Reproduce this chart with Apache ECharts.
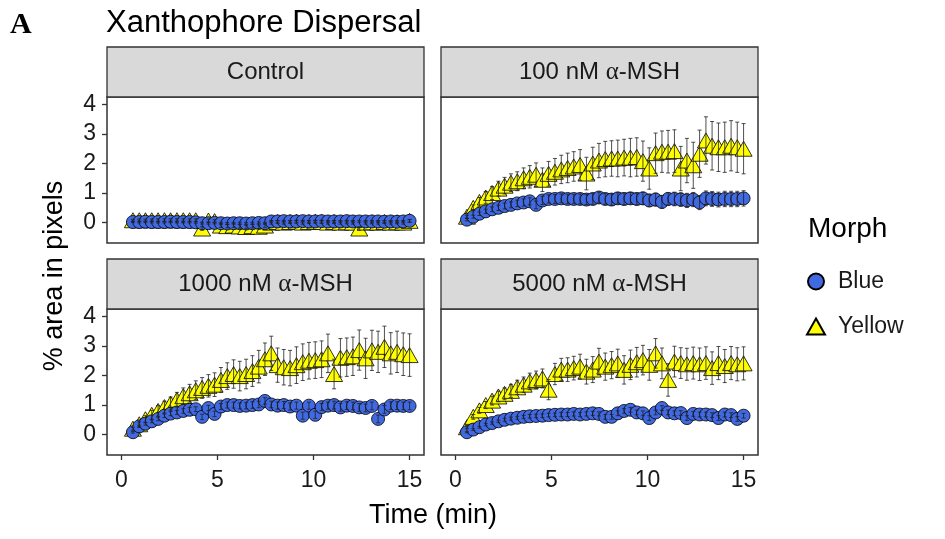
<!DOCTYPE html>
<html>
<head>
<meta charset="utf-8">
<script src="https://cdn.jsdelivr.net/npm/echarts@6/dist/echarts.min.js"></script>
<style>
  html, body { margin: 0; padding: 0; background: #fff; }
  #chart { width: 945px; height: 539px; }
</style>
</head>
<body>
<div id="chart"></div>
<script>
// time points (min)
const times = [0.6,0.93,1.25,1.58,1.91,2.24,2.56,2.89,3.22,3.55,3.87,4.2,4.53,4.85,5.18,5.51,5.84,6.16,6.49,6.82,
  7.15,7.47,7.8,8.13,8.45,8.78,9.11,9.44,9.76,10.09,10.42,10.75,11.07,11.4,11.73,12.05,12.38,12.71,13.04,13.36,
  13.69,14.02,14.35,14.67,15.0];

const panelNames = ['Control', '100 nM α-MSH', '1000 nM α-MSH', '5000 nM α-MSH'];
const xTicks = [0, 5, 10, 15];
const yTicks = [0, 1, 2, 3, 4];

// Control
const ctlBlue = [0.02,0.02,0.03,0.02,0.02,0.02,0.03,0.02,0.02,0.02,0.01,-0.02,-0.02,-0.01,-0.02,-0.03,-0.02,-0.02,-0.03,-0.02,
  -0.01,-0.02,0.04,0.04,0.05,0.04,0.04,0.05,0.04,0.04,0.05,0.04,0.04,0.04,0.05,0.04,0.04,0.04,0.04,0.04,
  0.03,0.04,0.03,0.04,0.06];
const ctlBlueErr = [0.02,0.03,0.03,0.03,0.03,0.03,0.03,0.03,0.03,0.03,0.03,0.03,0.03,0.03,0.03,0.03,0.03,0.03,0.03,0.03,
  0.03,0.03,0.03,0.03,0.03,0.03,0.03,0.03,0.03,0.03,0.03,0.03,0.03,0.03,0.03,0.03,0.03,0.03,0.03,0.03,
  0.03,0.03,0.03,0.03,0.04];
const ctlYellow = [0.08,0.08,0.08,0.08,0.08,0.08,0.08,0.08,0.08,0.08,0.08,-0.2,0.07,0.05,-0.1,-0.12,-0.1,-0.13,-0.15,-0.12,
  -0.14,-0.1,0.0,0.02,0.0,0.02,0.03,0.0,0.02,0.03,0.02,0.0,0.02,0.0,0.01,0.0,-0.2,0.0,0.01,0.0,
  0.02,0.0,0.01,0.0,0.06];
const ctlYellowErr = [0.03,0.04,0.04,0.04,0.05,0.05,0.05,0.05,0.05,0.05,0.05,0.06,0.05,0.05,0.06,0.06,0.06,0.06,0.06,0.06,
  0.06,0.06,0.05,0.05,0.05,0.05,0.05,0.05,0.05,0.05,0.05,0.05,0.05,0.05,0.05,0.05,0.06,0.05,0.05,0.05,
  0.05,0.05,0.05,0.05,0.05];

// 100 nM
const blue100 = [0.1,0.2,0.3,0.38,0.45,0.5,0.56,0.6,0.65,0.68,0.72,0.6,0.75,0.8,0.8,0.82,0.8,0.8,0.8,0.78,
  0.8,0.85,0.8,0.78,0.82,0.8,0.82,0.8,0.82,0.75,0.78,0.7,0.8,0.8,0.78,0.75,0.78,0.68,0.82,0.8,
  0.78,0.8,0.8,0.8,0.82];
const blue100Err = [0.04,0.05,0.06,0.07,0.08,0.09,0.1,0.1,0.11,0.12,0.12,0.13,0.14,0.14,0.15,0.15,0.16,0.16,0.17,0.17,
  0.18,0.18,0.18,0.19,0.19,0.2,0.2,0.2,0.21,0.21,0.22,0.22,0.22,0.23,0.23,0.24,0.24,0.24,0.25,0.25,
  0.25,0.26,0.26,0.26,0.26];
const yellow100 = [0.2,0.5,0.7,0.85,1.0,1.15,1.25,1.35,1.4,1.5,1.55,1.62,1.45,1.65,1.72,1.8,1.85,1.9,1.95,1.66,
  2.0,2.1,2.15,2.17,2.17,2.2,2.2,2.22,2.08,1.83,2.35,2.4,2.4,2.42,1.83,2.1,1.94,2.33,2.78,2.6,
  2.55,2.55,2.6,2.55,2.5];
const yellow100Err = [0.05,0.1,0.15,0.2,0.22,0.25,0.28,0.3,0.32,0.35,0.38,0.4,0.4,0.42,0.45,0.48,0.5,0.5,0.52,0.55,
  0.55,0.58,0.6,0.6,0.62,0.62,0.65,0.65,0.68,0.7,0.68,0.7,0.72,0.72,0.75,0.75,0.78,0.8,0.8,0.82,
  0.82,0.85,0.85,0.85,0.85];

// 1000 nM
const blue1000 = [0.08,0.28,0.37,0.45,0.53,0.64,0.71,0.75,0.8,0.84,0.86,0.6,0.9,0.7,0.95,1.0,1.0,0.97,0.98,1.0,
  1.02,1.14,1.02,0.98,1.0,0.95,0.98,0.64,0.98,0.67,0.93,0.98,1.0,0.92,0.98,0.97,0.92,0.9,0.97,0.53,
  0.85,0.98,0.98,0.97,0.97];
const blue1000Err = [0.03,0.04,0.05,0.05,0.06,0.06,0.07,0.07,0.08,0.08,0.08,0.09,0.09,0.09,0.1,0.1,0.1,0.1,0.11,0.11,
  0.11,0.11,0.11,0.12,0.12,0.12,0.12,0.12,0.12,0.12,0.12,0.12,0.13,0.13,0.13,0.13,0.13,0.13,0.13,0.13,
  0.13,0.13,0.13,0.13,0.13];
const yellow1000 = [0.2,0.35,0.52,0.67,0.8,0.93,1.05,1.18,1.3,1.4,1.5,1.58,1.65,1.69,1.85,1.98,2.05,1.98,2.05,2.15,
  2.3,2.55,2.75,2.35,2.28,2.25,2.35,2.45,2.5,2.52,2.55,2.75,2.05,2.6,2.62,2.65,2.86,2.58,2.85,2.8,
  2.97,2.75,2.8,2.72,2.69];
const yellow1000Err = [0.05,0.08,0.12,0.15,0.18,0.2,0.22,0.25,0.28,0.3,0.32,0.35,0.38,0.4,0.42,0.45,0.48,0.5,0.5,0.52,
  0.55,0.55,0.58,0.58,0.6,0.6,0.62,0.62,0.62,0.62,0.62,0.65,0.5,0.65,0.65,0.65,0.68,0.68,0.68,0.7,
  0.7,0.7,0.7,0.72,0.72];

// 5000 nM
const blue5000 = [0.08,0.17,0.25,0.34,0.39,0.45,0.5,0.54,0.57,0.6,0.62,0.63,0.64,0.66,0.67,0.68,0.68,0.7,0.68,0.7,
  0.72,0.7,0.6,0.6,0.72,0.8,0.84,0.75,0.72,0.56,0.75,0.9,0.75,0.72,0.73,0.56,0.7,0.68,0.68,0.66,
  0.56,0.68,0.66,0.53,0.64];
const blue5000Err = [0.02,0.03,0.03,0.04,0.04,0.04,0.05,0.05,0.05,0.05,0.06,0.06,0.06,0.06,0.06,0.07,0.07,0.07,0.07,0.07,
  0.07,0.07,0.08,0.08,0.08,0.08,0.08,0.08,0.08,0.08,0.08,0.08,0.08,0.08,0.08,0.08,0.08,0.08,0.08,0.08,
  0.08,0.08,0.08,0.08,0.08];
const yellow5000 = [0.25,0.6,0.82,1.0,1.15,1.29,1.38,1.48,1.6,1.69,1.8,1.85,1.9,1.52,2.05,2.2,2.2,2.25,2.3,2.13,
  2.2,2.47,2.3,2.35,2.41,2.19,2.36,2.45,2.52,2.36,2.75,2.41,1.85,2.47,2.42,2.38,2.42,2.38,2.42,2.25,
  2.42,2.32,2.42,2.38,2.41];
const yellow5000Err = [0.05,0.08,0.1,0.12,0.15,0.18,0.2,0.22,0.24,0.26,0.28,0.3,0.32,0.34,0.36,0.38,0.4,0.4,0.42,0.42,
  0.44,0.45,0.46,0.46,0.48,0.48,0.5,0.5,0.5,0.52,0.5,0.52,0.55,0.52,0.52,0.54,0.54,0.55,0.55,0.55,
  0.56,0.56,0.56,0.56,0.56];

const panels = [
  {blue: ctlBlue, blueErr: ctlBlueErr, yellow: ctlYellow, yellowErr: ctlYellowErr},
  {blue: blue100, blueErr: blue100Err, yellow: yellow100, yellowErr: yellow100Err},
  {blue: blue1000, blueErr: blue1000Err, yellow: yellow1000, yellowErr: yellow1000Err},
  {blue: blue5000, blueErr: blue5000Err, yellow: yellow5000, yellowErr: yellow5000Err}
];

const FONT = '"Liberation Sans", Arial, sans-serif';
const INK = '#1a1a1a';
const W = 317, H = 146, STRIP = 50;
const gridPos = [[107, 97], [441, 97], [107, 309], [441, 309]];

function errorBars(vals, errs, i) {
  return {
    type: 'custom',
    xAxisIndex: i, yAxisIndex: i,
    z: 4,
    silent: true,
    renderItem: function (params, api) {
      const x = api.value(0), y = api.value(1), e = api.value(2);
      const hi = api.coord([x, y + e]);
      const lo = api.coord([x, y - e]);
      const c = 2;
      const st = {stroke: '#222', lineWidth: 0.8};
      return {type: 'group', children: [
        {type: 'line', shape: {x1: hi[0], y1: hi[1], x2: lo[0], y2: lo[1]}, style: st},
        {type: 'line', shape: {x1: hi[0] - c, y1: hi[1], x2: hi[0] + c, y2: hi[1]}, style: st},
        {type: 'line', shape: {x1: lo[0] - c, y1: lo[1], x2: lo[0] + c, y2: lo[1]}, style: st}
      ]};
    },
    encode: {x: 0, y: 1},
    data: times.map((t, k) => [t, vals[k], errs[k]])
  };
}

const series = [];
panels.forEach((p, i) => {
  series.push({
    type: 'scatter', name: 'Yellow', xAxisIndex: i, yAxisIndex: i, z: 2,
    symbol: 'triangle', symbolSize: [17, 15],
    itemStyle: {color: '#ffff00', opacity: 1, borderColor: '#000', borderWidth: 0.8},
    emphasis: {disabled: true},
    data: times.map((t, k) => [t, p.yellow[k]])
  });
  series.push({
    type: 'scatter', name: 'Blue', xAxisIndex: i, yAxisIndex: i, z: 3,
    symbol: 'circle', symbolSize: 13,
    itemStyle: {color: '#4169e1', opacity: 1, borderColor: '#000', borderWidth: 0.8},
    emphasis: {disabled: true},
    data: times.map((t, k) => [t, p.blue[k]])
  });
  series.push(errorBars(p.yellow, p.yellowErr, i));
  series.push(errorBars(p.blue, p.blueErr, i));
});

const graphic = [
  {type: 'text', x: 10, y: 25, style: {text: 'A', font: 'bold 30px "Liberation Serif", serif', fill: '#000', verticalAlign: 'middle'}},
  {type: 'text', x: 106, y: 23, style: {text: 'Xanthophore Dispersal', font: '31px ' + FONT, fill: '#000', verticalAlign: 'middle'}},
  {type: 'text', x: 808, y: 229, style: {text: 'Morph', font: '28px ' + FONT, fill: '#000', verticalAlign: 'middle'}},
  {type: 'text', x: 433, y: 516, style: {text: 'Time (min)', font: '27px ' + FONT, fill: '#000', align: 'center', verticalAlign: 'middle'}},
  {type: 'text', x: 55, y: 276, rotation: Math.PI / 2,
    style: {text: '% area in pixels', font: '27px ' + FONT, fill: '#000', align: 'center', verticalAlign: 'middle'}}
];
gridPos.forEach(([l, t], i) => {
  graphic.push({type: 'rect', shape: {x: l, y: t - STRIP, width: W, height: STRIP},
    style: {fill: '#d9d9d9', stroke: '#333', lineWidth: 1.3}});
  const name = panelNames[i];
  const text = name.indexOf('α') >= 0 ? '{a|' + name.split('α')[0] + '}{g|α}{a|' + name.split('α')[1] + '}' : '{a|' + name + '}';
  graphic.push({type: 'text', x: l + W / 2, y: t - STRIP / 2,
    style: {text: text, align: 'center', verticalAlign: 'middle',
      rich: {a: {fontSize: 24, fontFamily: FONT, fill: INK}, g: {fontSize: 25, fontFamily: '"Liberation Serif", serif', fill: INK}}}});
});

const chart = echarts.init(document.getElementById('chart'));
chart.setOption({
  animation: false,
  backgroundColor: '#fff',
  grid: gridPos.map(([l, t]) => ({left: l, top: t, width: W, height: H, show: true,
    borderColor: '#333', borderWidth: 1.5, backgroundColor: '#fff'})),
  xAxis: gridPos.map((g, i) => ({
    gridIndex: i, type: 'value', min: -0.75, max: 15.75,
    axisLine: {show: false, onZero: false},
    splitLine: {show: false},
    axisTick: {show: i >= 2, length: 5, customValues: xTicks, lineStyle: {color: '#333', width: 1.3}},
    axisLabel: {show: i >= 2, customValues: xTicks, fontSize: 23, fontFamily: FONT, color: INK, margin: 14}
  })),
  yAxis: gridPos.map((g, i) => ({
    gridIndex: i, type: 'value', min: -0.69, max: 4.25,
    axisLine: {show: false, onZero: false},
    splitLine: {show: false},
    axisTick: {show: i % 2 === 0, length: 5, customValues: yTicks, lineStyle: {color: '#333', width: 1.3}},
    axisLabel: {show: i % 2 === 0, customValues: yTicks, fontSize: 23, fontFamily: FONT, color: INK, margin: 11}
  })),
  legend: {
    data: ['Blue', 'Yellow'], orient: 'vertical', left: 801, top: 265,
    itemWidth: 18, itemHeight: 16, itemGap: 22, selectedMode: false,
    textStyle: {fontSize: 23, fontFamily: FONT, color: INK, padding: [0, 0, 0, 8]}
  },
  graphic: graphic,
  series: series
});
</script>
</body>
</html>
